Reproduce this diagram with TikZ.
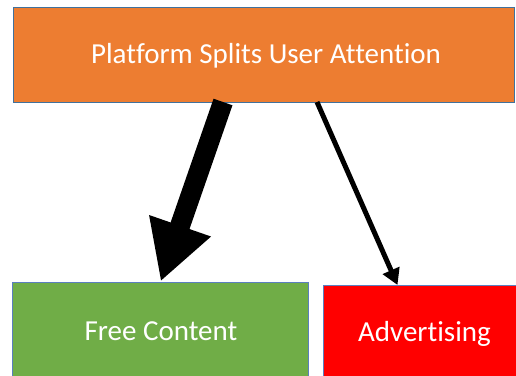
\documentclass[tikz,border=0pt]{standalone}
\usepackage{fontspec}
\setmainfont[Ligatures=NoCommon]{Carlito}
\usetikzlibrary{arrows.meta}
\definecolor{oorange}{HTML}{ED7D31}
\definecolor{ogreen}{HTML}{70AD47}
\definecolor{ored}{HTML}{FF0000}
\definecolor{oborder}{HTML}{41719C}
\definecolor{oborderlight}{HTML}{5B7FBF}
\tikzset{
  box/.style={draw=oborder, line width=1pt, inner sep=0pt},
  boxtext/.style={text=white, font=\fontsize{29}{33}\selectfont},
}
\begin{document}
\begin{tikzpicture}[x=1pt,y=-1pt]
\useasboundingbox (0,0) rectangle (516,375);
\fill[white] (0,0) rectangle (516,375);
% boxes
\fill[oorange] (13.5,7.5) rectangle (514.5,102);
\draw[box] (13.5,7.5) rectangle (514.5,102);
\fill[ogreen] (12.5,282) rectangle (308.5,380);
\draw[draw=oborderlight, line width=0.8pt] (12.5,380) -- (12.5,282) -- (308.5,282) -- (308.5,380);
\fill[ored] (323,285.5) rectangle (520,380);
\draw[draw=oborderlight, line width=0.8pt] (323,380) -- (323,285.5) -- (520,285.5);
% texts
\node[boxtext] (top) at (266,55.5) {Platform Splits User Attention};
\node[boxtext] (free) at (161,331) {Free Content};
\node[boxtext] (adv) at (424.5,333.5) {Advertising};
% connector endpoints
\coordinate (s1) at (223,102);
\coordinate (t1) at (160.7,281.5);
\coordinate (s2) at (317,102);
\coordinate (t2) at (397.5,285);
\draw[line width=20pt, -{Triangle[width=61pt,length=59pt]}] (s1) -- (t1);
\draw[line width=5pt, -{Triangle[width=17.5pt,length=16pt]}] (s2) -- (t2);
\end{tikzpicture}
\end{document}
